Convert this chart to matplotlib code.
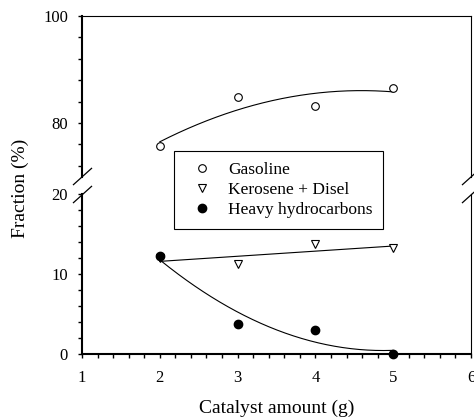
import numpy as np
import matplotlib
matplotlib.use("Agg")
import matplotlib.pyplot as plt
from matplotlib.lines import Line2D

# data
catalyst = [2, 3, 4, 5]
gasoline = [75.7, 84.8, 83.2, 86.6]
kerosene = [12.0, 11.25, 13.75, 13.3]
heavy = [12.3, 3.8, 3.0, 0.0]

labels = ["Gasoline", "Kerosene + Disel", "Heavy hydrocarbons"]

plt.rcParams['font.family'] = ['Liberation Serif', 'DejaVu Serif']

W, H = 474, 419
fig = plt.figure(figsize=(W / 100, H / 100), dpi=100)
fig.patch.set_facecolor('white')

# axes positions in pixels (top origin)
x0, x1 = 82, 471
top_y0, top_y1 = 16, 176.5
bot_y0, bot_y1 = 194.3, 354.3

ax_top = fig.add_axes([x0 / W, 1 - top_y1 / H, (x1 - x0) / W, (top_y1 - top_y0) / H])
ax_bot = fig.add_axes([x0 / W, 1 - bot_y1 / H, (x1 - x0) / W, (bot_y1 - bot_y0) / H])

xs = np.linspace(2, 5, 200)

# top: gasoline
ax_top.plot(xs, np.polyval(np.polyfit(catalyst, gasoline, 2), xs), color='black', lw=0.8)
ax_top.plot(catalyst, gasoline, 'o', ms=5.5, mfc='white', mec='black', mew=0.8, zorder=3)

# bottom: kerosene + heavy
ax_bot.plot(xs, np.polyval(np.polyfit(catalyst, kerosene, 1), xs), color='black', lw=0.8)
ax_bot.plot(xs, np.polyval(np.polyfit(catalyst, heavy, 2), xs), color='black', lw=0.8)
ax_bot.plot(catalyst, kerosene, 'v', ms=5.5, mfc='white', mec='black', mew=0.8, zorder=3)
ax_bot.plot(catalyst, heavy, 'o', ms=6, mfc='black', mec='black', zorder=4, clip_on=False)

for ax in (ax_top, ax_bot):
    ax.set_xlim(1, 6)
    ax.spines['left'].set_linewidth(1.5)
    ax.spines['bottom'].set_linewidth(1.5)
    ax.spines['top'].set_linewidth(0.8)
    ax.spines['right'].set_linewidth(0.8)
    ax.tick_params(which='both', direction='out', length=3, width=1.0,
                   labelsize=12, pad=7, right=False, top=False)

ax_top.set_ylim(70, 100)
ax_top.set_yticks([80, 100])
ax_top.set_yticks([72, 76, 84, 88, 92, 96], minor=True)
ax_top.spines['bottom'].set_visible(False)
ax_top.tick_params(axis='x', which='both', bottom=False, labelbottom=False)

ax_bot.set_ylim(0, 20)
ax_bot.set_yticks([0, 10, 20])
ax_bot.set_yticks(np.arange(2, 20, 2), minor=True)
ax_bot.spines['top'].set_visible(False)
ax_bot.set_xticks([1, 2, 3, 4, 5, 6])
ax_bot.set_xticks(np.arange(1, 6.01, 0.2), minor=True)
ax_bot.tick_params(axis='x', pad=8)
ax_bot.set_xlabel("Catalyst amount (g)", fontsize=14, labelpad=10)

fig.text(20 / W, 1 - 188 / H, "Fraction (%)", rotation=90, fontsize=14,
         ha='center', va='center')

# break marks
brk = dict(marker=[(-1, -0.9), (1, 0.9)], markersize=13.7, linestyle='none',
           color='black', mec='black', mew=0.9, clip_on=False)
ax_top.plot([0, 1], [0, 0], transform=ax_top.transAxes, **brk)
ax_bot.plot([0, 1], [1, 1], transform=ax_bot.transAxes, **brk)

# legend
handles = [
    Line2D([], [], marker='o', ls='none', ms=5.5, mfc='white', mec='black', mew=0.8),
    Line2D([], [], marker='v', ls='none', ms=5.5, mfc='white', mec='black', mew=0.8),
    Line2D([], [], marker='o', ls='none', ms=6, mfc='black', mec='black'),
]
leg = fig.legend(handles, labels, loc='upper left',
                 bbox_to_anchor=(173.7 / W, 1 - 151 / H), bbox_transform=fig.transFigure,
                 borderaxespad=0, fontsize=12.5, frameon=True, fancybox=False,
                 framealpha=1, edgecolor='black', borderpad=0.62, handlelength=2.0,
                 handletextpad=0.5, labelspacing=0.22)
leg.get_frame().set_linewidth(0.8)
leg.set_zorder(10)

fig.savefig("out.png", dpi=100)
